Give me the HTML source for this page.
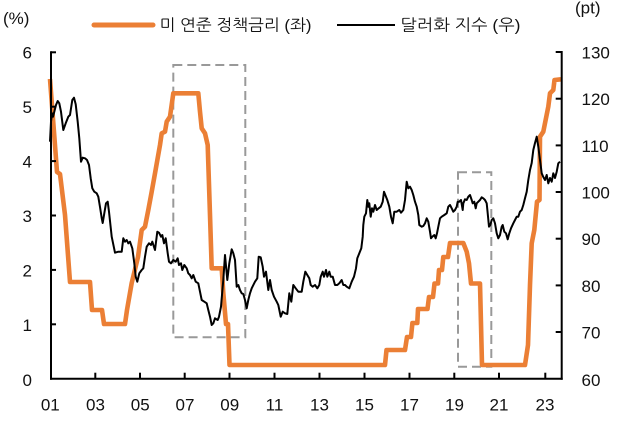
<!DOCTYPE html>
<html>
<head>
<meta charset="utf-8">
<style>
html,body{margin:0;padding:0;background:#fff;}
svg{display:block;}
text{font-family:"Liberation Sans","NanumGothic","Noto Sans CJK KR",sans-serif;fill:#111;}
.kr{font-family:"Liberation Sans","NanumGothic","Noto Sans CJK KR",sans-serif;}
</style>
</head>
<body>
<svg width="641" height="427" viewBox="0 0 641 427" xmlns="http://www.w3.org/2000/svg">
<rect x="0" y="0" width="641" height="427" fill="#fff"/>

<!-- unit labels -->
<text x="3" y="24" font-size="17">(%)</text>
<text x="575" y="13.5" font-size="17">(pt)</text>

<!-- legend -->
<line x1="94" y1="25" x2="153" y2="25" stroke="#EB7F35" stroke-width="5" stroke-linecap="round"/>
<text class="kr" x="159.5" y="30.5" font-size="16" textLength="152" lengthAdjust="spacingAndGlyphs">미 연준 정책금리 (좌)</text>
<line x1="337" y1="25" x2="395" y2="25" stroke="#000" stroke-width="2"/>
<text class="kr" x="400.5" y="30.5" font-size="16" textLength="120" lengthAdjust="spacingAndGlyphs">달러화 지수 (우)</text>

<!-- dashed boxes -->
<rect x="173.3" y="65" width="72" height="272.3" fill="none" stroke="#999" stroke-width="2" stroke-dasharray="9,5"/>
<rect x="458" y="172.3" width="33.3" height="194.4" fill="none" stroke="#999" stroke-width="2" stroke-dasharray="9,5"/>

<!-- orange: Fed policy rate -->
<polyline fill="none" stroke="#EB7F35" stroke-width="4.6" stroke-linejoin="round" stroke-linecap="butt" points="50,79 57,172 60,174 65,215 70,282 90,282 92,310 102,310 104,324 125,324 127,310 131.7,283 138,257 141.7,230 145,226.7 148.3,210 151.7,191.7 155,173.3 160,145 161.7,133.3 165,131.7 166.7,121.7 170,116.7 173.3,93.3 198.3,93.3 200,111.7 201.7,128.3 205,133.3 207.7,145 210,215 211.7,268.3 221.7,268.3 223.3,293 226,324 228,324 229.5,365 385,365 386.5,350 405,350 407,337 411,337 412.4,323 417.3,323 418,309 427.5,309 429,297 433,297 434.5,283.5 438,283.5 439,270 442,270 443.3,257 448,257 450,243 463.3,243 466.7,251.7 469,263.3 471,283.5 480,283.5 482,365 525,365 528,345 530,285 531.7,243.3 534.3,230 537,201.7 539.5,200 540,136.7 543.3,131.7 548.3,106.7 550,93.3 553.3,90 554.5,80 561,79.3"/>

<!-- black: dollar index -->
<polyline fill="none" stroke="#000" stroke-width="2" stroke-linejoin="round" points="50,141.7 51,121.7 52,113.3 53,116.7 54.3,111.7 56,105 57.7,101 59.3,103.3 61,111.7 63.3,130 65.7,123.3 68.3,116.7 70,115 72.3,100 74,97.7 75.7,104.3 77.7,121.7 79.3,138.3 81,161.7 82.7,157.7 85,158.3 87,160 89,165 90.7,178.3 92.3,188.3 94.3,191.7 96.7,193.3 98.3,196.7 100,207 101.7,218 102.7,223 104.3,213.3 106,203.3 107.7,201.7 109,211.7 111.7,236.7 115,252.7 118.3,251.7 121.7,251.7 123.3,238.3 125,241.7 126.7,240 128.3,243.3 130,241.7 132.3,248.3 134.3,263.3 135.7,276.7 137.3,281.7 139.3,273.3 141.7,270 143.3,268.3 145,256.7 146.7,246.7 149,243.3 151,245 152.3,241.7 155,250 157.3,231.7 159,232.7 161,236.7 162.3,235 164,243.3 165.7,238.3 167.7,253.3 169,261.7 171,263.3 173.3,260 175.7,261.7 177.7,258.3 179,265 181,263.3 182.3,270 184.3,265 186.7,268.3 188.3,273.3 190,275 191.7,278.3 193.3,275 195.7,281.7 198.3,283.3 200,291.7 201.7,300 204.3,301.7 206.7,303.3 208.3,310 210,316.7 211.7,325 213.3,323.3 215,318.3 217.7,320 219,316.7 221,306.7 222.7,286.7 223.3,280 225,255 227.3,280 229.3,263.3 231.7,249.3 233.3,253.3 235,260 236.7,286.7 238.3,285 240,290 241.7,293.3 243.3,294 245,300 246.7,308.3 248.3,300 250,293.3 251.7,288.3 255,281.7 257.3,278.3 258.7,256.7 260.7,257.3 262.7,266.7 264,276.7 266,271.7 268.3,290 270,280 271.7,290 274,296.7 276.7,301.7 278.3,305 280.7,316.7 282.7,311.7 285,313.3 287.3,314 289.3,293.3 291.3,301.7 293.3,285 295.7,288.3 298.3,291.7 301.7,291.7 303.3,281.7 305.3,271.7 307.3,275 309.3,278.3 310.7,285 312.7,286.7 315,285 317.3,288.3 319.3,285 320.7,276.7 322.7,271.7 324,276.7 326,270 327.3,276.7 329.3,271.7 330.7,276.7 332.7,276.7 335,285 337.3,285 339.3,283.3 341.7,280 343.3,285 345,285 346.7,286.7 349.3,288.3 351.7,281.7 354,276.7 356,268.3 357.3,258.3 359.3,253.3 361.3,248.3 362.7,236.7 363.3,225 364.3,216.7 366,213.3 367.3,200 368.3,206.7 369.3,203.3 370.7,216.7 372,208.3 373.3,211.7 375,205 376.7,210 378.7,208.3 380.7,206.7 382.7,201.7 384,191.7 385.3,195 387.3,200 389.3,206.7 391,216.7 392.7,223.3 394.3,211.7 396.7,211.7 399.3,210 401,212.7 403.3,210 405,200 406.7,181.7 408.3,188.3 410,186.7 411.7,190 413.3,195 415,201.7 416.7,206.7 418.3,215 419.3,225 421.7,226.7 423.3,226 425,223.3 426.7,218.3 428.3,221.7 430,231.7 431,238.3 432.3,236.7 434.3,235 435.7,238.3 437,233.3 438.3,226.7 440,218.3 441.7,216.7 444.3,215 446.7,213.3 448.3,206.7 450,205 451.7,208.3 453.3,211.7 455,210 456.7,206.7 457.7,201.7 459.3,201.7 461,200 462.7,210 463.3,203.3 465,199.3 466.7,200 468.3,196.7 470,195 471.7,200 472.7,203.3 474.3,201.7 475.7,208.3 476.7,203.3 478.3,201.7 480,200 481.7,197.3 483.3,198.3 485,200 486.7,203.3 487.7,213.3 489,226.7 490.3,225 491.7,220 493.3,218.3 495,223.3 496.7,233.3 498.3,238.3 500,235 501.7,226.7 502.7,225 504.3,231.7 506,233.3 507.7,239.3 509.3,233.3 511,228.3 513.3,223.3 515,220 516.7,216.7 518.3,216.7 520,211.7 521.7,210 523.3,205 525,198.3 526.7,191.7 528.3,180 530,170 531.7,163 533.3,150 535,143 536.7,136.7 538.3,146.7 540,160 541.7,173.3 543.3,177 545,180 546.7,175 548.3,183.3 550,178 551.7,181.7 553.3,173.3 555,178 556.7,171.7 558.3,163.3 560,161.7"/>

<!-- axes -->
<g stroke="#000" stroke-width="2" fill="none">
  <line x1="51" y1="51.3" x2="51" y2="379.7"/>
  <line x1="561.7" y1="51" x2="561.7" y2="379.7"/>
  <line x1="50" y1="378.7" x2="562.7" y2="378.7"/>
  <!-- left ticks -->
  <line x1="51" y1="52.3" x2="56" y2="52.3"/>
  <line x1="51" y1="106.7" x2="56" y2="106.7"/>
  <line x1="51" y1="161.1" x2="56" y2="161.1"/>
  <line x1="51" y1="215.5" x2="56" y2="215.5"/>
  <line x1="51" y1="269.9" x2="56" y2="269.9"/>
  <line x1="51" y1="324.3" x2="56" y2="324.3"/>
  <!-- right ticks -->
  <line x1="555.7" y1="52" x2="561.7" y2="52"/>
  <line x1="555.7" y1="98.7" x2="561.7" y2="98.7"/>
  <line x1="555.7" y1="145.4" x2="561.7" y2="145.4"/>
  <line x1="555.7" y1="192" x2="561.7" y2="192"/>
  <line x1="555.7" y1="238.7" x2="561.7" y2="238.7"/>
  <line x1="555.7" y1="285.4" x2="561.7" y2="285.4"/>
  <line x1="555.7" y1="332" x2="561.7" y2="332"/>
  <!-- bottom ticks -->
  <line x1="95.3" y1="378.7" x2="95.3" y2="372.7"/>
  <line x1="140" y1="378.7" x2="140" y2="372.7"/>
  <line x1="184.7" y1="378.7" x2="184.7" y2="372.7"/>
  <line x1="229.5" y1="378.7" x2="229.5" y2="372.7"/>
  <line x1="274.5" y1="378.7" x2="274.5" y2="372.7"/>
  <line x1="319.5" y1="378.7" x2="319.5" y2="372.7"/>
  <line x1="364.5" y1="378.7" x2="364.5" y2="372.7"/>
  <line x1="409.5" y1="378.7" x2="409.5" y2="372.7"/>
  <line x1="454.3" y1="378.7" x2="454.3" y2="372.7"/>
  <line x1="499" y1="378.7" x2="499" y2="372.7"/>
  <line x1="545.3" y1="378.7" x2="545.3" y2="372.7"/>
</g>

<!-- left labels -->
<g font-size="17" text-anchor="end">
  <text x="32" y="386">0</text>
  <text x="32" y="331">1</text>
  <text x="32" y="276.5">2</text>
  <text x="32" y="222">3</text>
  <text x="32" y="167.5">4</text>
  <text x="32" y="113">5</text>
  <text x="32" y="58.5">6</text>
</g>

<!-- right labels -->
<g font-size="17" text-anchor="start">
  <text x="581.5" y="386">60</text>
  <text x="581.5" y="338.5">70</text>
  <text x="581.5" y="292">80</text>
  <text x="581.5" y="245">90</text>
  <text x="581.5" y="198.5">100</text>
  <text x="581.5" y="152">110</text>
  <text x="581.5" y="105">120</text>
  <text x="581.5" y="58.5">130</text>
</g>

<!-- x labels -->
<g font-size="17" text-anchor="middle">
  <text x="50.3" y="410.7">01</text>
  <text x="95.5" y="410.7">03</text>
  <text x="140.2" y="410.7">05</text>
  <text x="185" y="410.7">07</text>
  <text x="229.7" y="410.7">09</text>
  <text x="274.5" y="410.7">11</text>
  <text x="319.5" y="410.7">13</text>
  <text x="364.5" y="410.7">15</text>
  <text x="409.5" y="410.7">17</text>
  <text x="454.5" y="410.7">19</text>
  <text x="499" y="410.7">21</text>
  <text x="545" y="410.7">23</text>
</g>
</svg>
</body>
</html>
